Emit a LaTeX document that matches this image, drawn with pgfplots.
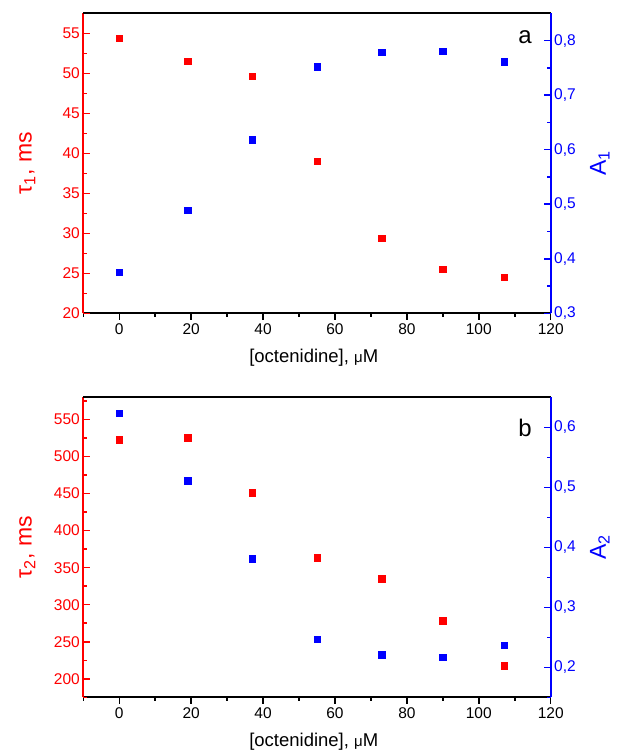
\documentclass[border=0pt]{standalone}
\usepackage{fontspec}
\setmainfont{Liberation Sans}
\usepackage{pgfplots}
\usepackage{pgfplotstable}
\pgfplotsset{compat=1.18}

\pgfplotstableread{
x tau1 A1
0 54.4 0.375
19 51.5 0.4885
37 49.6 0.618
55 39.0 0.752
73 29.4 0.779
90 25.5 0.781
107 24.5 0.761
}\tabA
\pgfplotstableread{
x tau2 A2
0 523 0.624
19 525.7 0.511
37 451.4 0.381
55 363.5 0.247
73 335.1 0.221
90 278.4 0.217
107 217.6 0.237
}\tabB

\pgfplotsset{
  base/.style={
    scale only axis, width=467.4pt, height=300pt,
    xmin=-10, xmax=120,
    major tick length=6.5pt, minor tick length=3.5pt,
    /pgf/number format/assume math mode=true,
    ticklabel style={font=\fontsize{15.5}{17}\selectfont},
    tick style={line width=1.5pt},
    axis line style={line width=2pt},
    clip=false,
  },
  xax/.style={base, axis x line*=bottom, axis y line=none,
    tick align=outside,
    xtick={0,20,...,120}, minor xtick={-10,10,...,110},
    x axis line style={black},
    xtick style={black},
    xlabel={[octenidine], {\fontsize{15}{15}\selectfont μ}M},
    xlabel style={font=\fontsize{18.5}{20}\selectfont, at={(axis description cs:0.493,-0.165)}, anchor=base},
  },
  leftax/.style={base, axis x line=none, axis y line*=left,
    tick align=inside,
    y axis line style={red},
    ytick style={red},
    yticklabel style={red},
    ylabel style={red, font=\fontsize{23}{26}\selectfont, at={(axis description cs:-0.12,0.5)}, anchor=center},
  },
  rightax/.style={base, axis x line*=top, axis y line*=right,
    tick align=inside,
    xtick=\empty,
    x axis line style={black},
    y axis line style={blue},
    ytick style={blue},
    yticklabel style={blue, /pgf/number format/.cd, fixed, fixed zerofill, precision=1, use comma},
    ylabel style={blue, font=\fontsize{23}{26}\selectfont, at={(axis description cs:1.105,0.5)}, anchor=center},
  },
  redm/.style={only marks, mark=square*, mark size=3.2pt, color=red, mark options={draw=red, fill=red}},
  bluem/.style={only marks, mark=square*, mark size=3.2pt, color=blue, mark options={draw=blue, fill=blue}},
}

\begin{document}
\begin{tikzpicture}
\path[use as bounding box] (0pt,0pt) rectangle (619pt,-752pt);
% Panel a
\begin{axis}[xax, at={(83.3pt,-313.3pt)}, anchor=south west, ymin=0, ymax=1]
\end{axis}
\begin{axis}[leftax, at={(83.3pt,-313.3pt)}, anchor=south west,
  ymin=20, ymax=57.5, ytick={20,25,...,55}, minor ytick={22.5,27.5,...,57.5},
  ylabel={τ\textsubscript{1}, ms}]
  \addplot[redm] table[x=x, y=tau1] {\tabA};
\end{axis}
\begin{axis}[rightax, at={(83.3pt,-313.3pt)}, anchor=south west,
  ymin=0.3, ymax=0.85, ytick={0.3,0.4,...,0.8}, minor ytick={0.35,0.45,...,0.85},
  ylabel={A\textsubscript{1}}]
  \addplot[bluem] table[x=x, y=A1] {\tabA};
  \node[font=\fontsize{24}{26}\selectfont] at (axis description cs:0.945,0.922) {a};
\end{axis}
% Panel b
\begin{axis}[xax, at={(83.3pt,-697.3pt)}, anchor=south west, ymin=0, ymax=1]
\end{axis}
\begin{axis}[leftax, at={(83.3pt,-697.3pt)}, anchor=south west,
  ymin=175, ymax=580, ytick={200,250,...,550}, minor ytick={175,225,...,575},
  ylabel={τ\textsubscript{2}, ms}]
  \addplot[redm] table[x=x, y=tau2] {\tabB};
\end{axis}
\begin{axis}[rightax, at={(83.3pt,-697.3pt)}, anchor=south west,
  ymin=0.15, ymax=0.65, ytick={0.2,0.3,...,0.6}, minor ytick={0.15,0.25,...,0.65},
  ylabel={A\textsubscript{2}}]
  \addplot[bluem] table[x=x, y=A2] {\tabB};
  \node[font=\fontsize{24}{26}\selectfont] at (axis description cs:0.945,0.898) {b};
\end{axis}
\end{tikzpicture}
\end{document}
